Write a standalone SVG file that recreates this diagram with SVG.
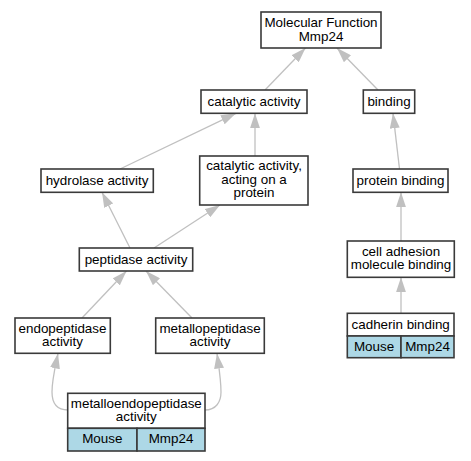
<svg xmlns="http://www.w3.org/2000/svg" width="471" height="461" viewBox="0 0 471 461">
<style>
  .box { fill: #ffffff; stroke: #3a3a3a; stroke-width: 1.6; }
  .cell { fill: #add8e6; stroke: #3a3a3a; stroke-width: 1.6; }
  .t { font-family: "Liberation Sans", Arial, sans-serif; font-size: 13.4px; fill: #000; text-anchor: middle; }
  .e { fill: none; stroke: #c0c0c0; stroke-width: 1.3; marker-end: url(#ah); }
</style>
<defs>
  <marker id="ah" viewBox="0 0 15 10" refX="15" refY="5" markerWidth="15" markerHeight="10" markerUnits="userSpaceOnUse" orient="auto">
    <path d="M0,0 L15,5 L0,10 z" fill="#c0c0c0"/>
  </marker>
</defs>
<rect width="471" height="461" fill="#ffffff"/>
<g id="edges">
  <path class="e" d="M265,90 L305.5,48"/>
  <path class="e" d="M378,90 L337,48"/>
  <path class="e" d="M120,169 L236,113.3"/>
  <path class="e" d="M255,156 L255,113.3"/>
  <path class="e" d="M399.5,169 L393,113.3"/>
  <path class="e" d="M401,241 L401,192.3"/>
  <path class="e" d="M130,248 L102,192.3"/>
  <path class="e" d="M154,248 L220,205"/>
  <path class="e" d="M82,318 L126.5,271"/>
  <path class="e" d="M192,318 L146,271"/>
  <path class="e" d="M401,313 L401,277.3"/>
  <path class="e" d="M68,410 C56,410 52,402 52,392 C52,380 55,368 58,353.5"/>
  <path class="e" d="M205,410 C216,410 221,402 221,392 C221,380 219,368 217,353.5"/>
</g>
<g id="mf">
  <rect class="box" x="261" y="12" width="120" height="36"/>
  <text class="t" x="321" y="27">Molecular Function</text>
  <text class="t" x="321" y="40.5">Mmp24</text>
</g>
<g id="catalytic">
  <rect class="box" x="201" y="90" width="106" height="23.3"/>
  <text class="t" x="254" y="105.5">catalytic activity</text>
</g>
<g id="binding">
  <rect class="box" x="363.3" y="90" width="51.4" height="23.3"/>
  <text class="t" x="389" y="105.5">binding</text>
</g>
<g id="hydrolase">
  <rect class="box" x="41" y="169" width="112.3" height="23.3"/>
  <text class="t" x="97" y="184.5">hydrolase activity</text>
</g>
<g id="acting">
  <rect class="box" x="199.7" y="156" width="108.3" height="49"/>
  <text class="t" x="254" y="170">catalytic activity,</text>
  <text class="t" x="254" y="183.5">acting on a</text>
  <text class="t" x="254" y="197">protein</text>
</g>
<g id="proteinbinding">
  <rect class="box" x="353" y="169" width="95" height="23.3"/>
  <text class="t" x="400.5" y="184.5">protein binding</text>
</g>
<g id="peptidase">
  <rect class="box" x="79.3" y="248" width="113.4" height="23"/>
  <text class="t" x="136" y="263.5">peptidase activity</text>
</g>
<g id="celladhesion">
  <rect class="box" x="347.3" y="241" width="107" height="36.3"/>
  <text class="t" x="401" y="255.5">cell adhesion</text>
  <text class="t" x="401" y="269">molecule binding</text>
</g>
<g id="endopeptidase">
  <rect class="box" x="15" y="318" width="95.3" height="35.3"/>
  <text class="t" x="62.5" y="332.5">endopeptidase</text>
  <text class="t" x="62.5" y="346">activity</text>
</g>
<g id="metallopeptidase">
  <rect class="box" x="155.7" y="318" width="108.6" height="35.3"/>
  <text class="t" x="210" y="332.5">metallopeptidase</text>
  <text class="t" x="210" y="346">activity</text>
</g>
<g id="cadherin">
  <rect class="box" x="347.3" y="313.3" width="106.7" height="22.7"/>
  <rect class="cell" x="347.3" y="336" width="53.7" height="21.7"/>
  <rect class="cell" x="401" y="336" width="53" height="21.7"/>
  <text class="t" x="400.7" y="328.5">cadherin binding</text>
  <text class="t" x="374" y="351">Mouse</text>
  <text class="t" x="427.5" y="351">Mmp24</text>
</g>
<g id="metalloendo">
  <rect class="box" x="67.7" y="393.3" width="137.3" height="35"/>
  <rect class="cell" x="67.7" y="428.3" width="69.3" height="22.7"/>
  <rect class="cell" x="137" y="428.3" width="68" height="22.7"/>
  <text class="t" x="136.3" y="407.5">metalloendopeptidase</text>
  <text class="t" x="136.3" y="421">activity</text>
  <text class="t" x="102.3" y="443">Mouse</text>
  <text class="t" x="171" y="443">Mmp24</text>
</g>
</svg>
